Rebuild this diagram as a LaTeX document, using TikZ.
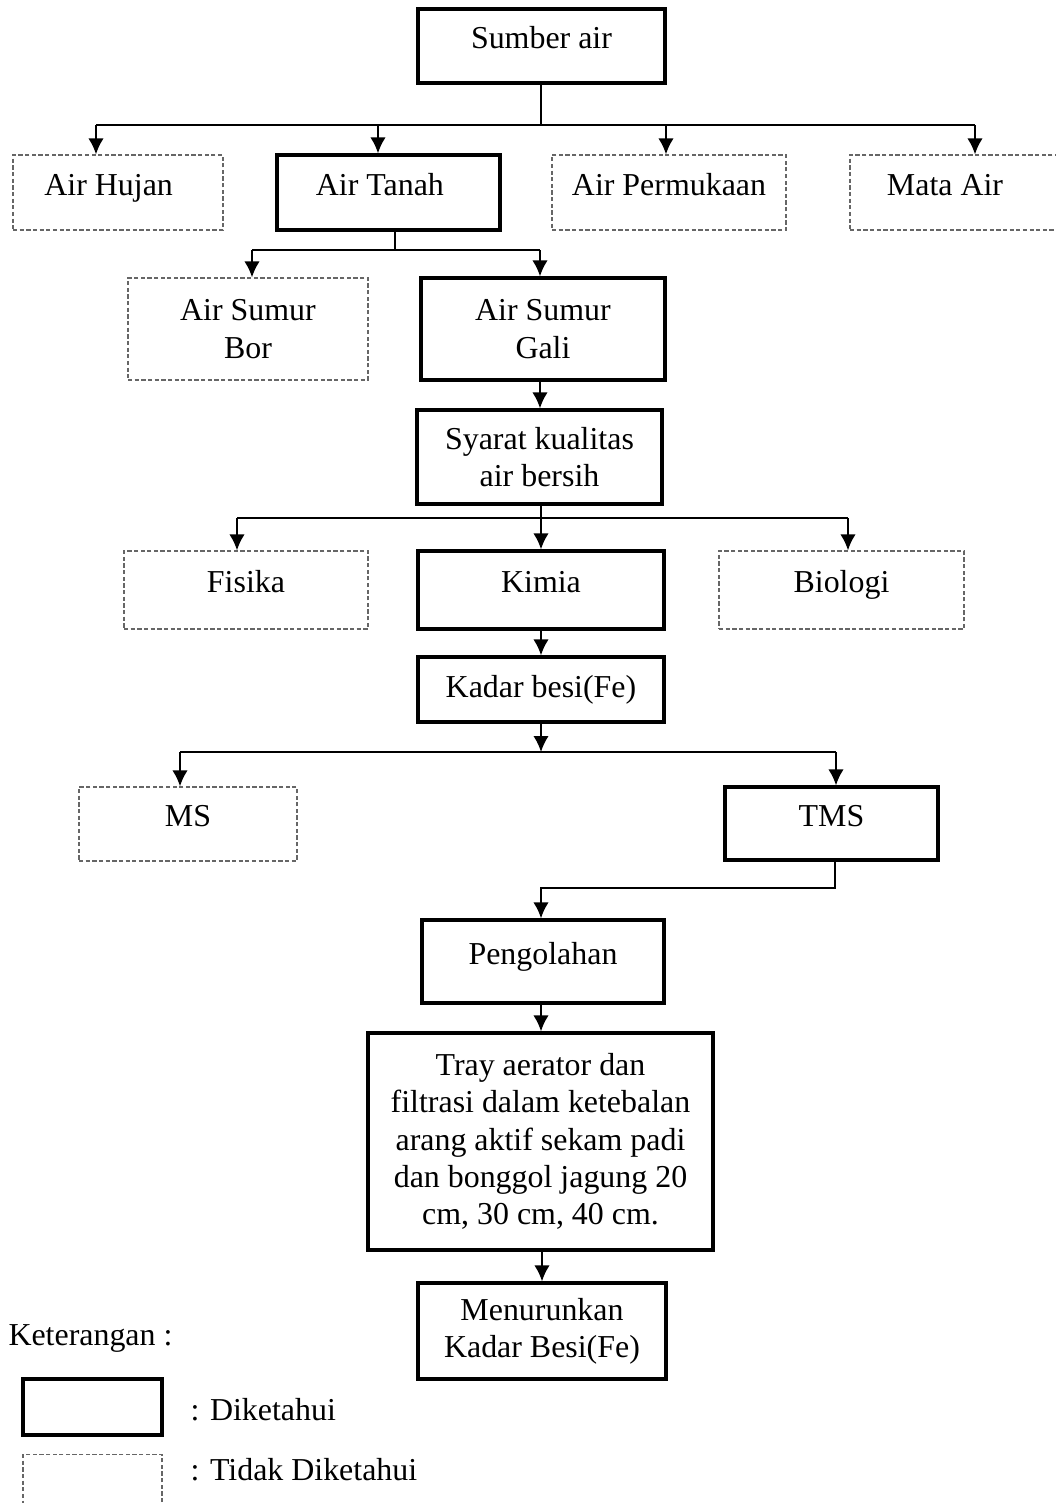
\documentclass[tikz,border=0pt]{standalone}
\usepackage{fontspec}
\setmainfont{Liberation Serif}
\usetikzlibrary{arrows.meta}

\tikzset{
  known/.style={draw, line width=1.2pt, align=center, inner sep=2pt, font=\fontsize{12}{14}\selectfont},
  unknown/.style={draw=black!60, dash pattern=on 1.6pt off 0.9pt, line width=0.45pt, align=center, inner sep=2pt, font=\fontsize{12}{14}\selectfont},
  sz/.style 2 args={minimum width=#1*0.376pt, minimum height=#2*0.376pt},
  toptext/.style={text height=8pt, text depth=6pt},
  flow/.style={line width=0.8pt}
}

\begin{document}
\begin{tikzpicture}[x=0.376pt, y=-0.376pt, >={Latex[length=6pt,width=5.8pt]}]

\useasboundingbox (0,0) rectangle (1056,1503);

\node[known, sz={247}{74}, toptext] (sumber) at (541.5,46) {Sumber air};

\node[unknown, sz={210}{75}, toptext] (hujan) at (118,192.5) {Air Hujan\hspace*{7pt}};
\node[known, sz={223}{75}, toptext] (tanah) at (388.5,192.5) {Air Tanah\hspace*{6.5pt}};
\node[unknown, sz={234}{75}, toptext] (permukaan) at (669,192.5) {Air Permukaan};
\node[unknown, sz={210}{75}, toptext] (mata) at (955,192.5) {Mata Air\hspace*{7.5pt}};

\node[unknown, sz={240}{102}] (bor) at (248,329) {Air Sumur\\Bor};
\node[known, sz={244}{102}] (gali) at (543,329) {Air Sumur\\Gali};

\node[known, sz={245}{94}] (syarat) at (539.5,457) {Syarat kualitas\\air bersih};

\node[unknown, sz={244}{78}, toptext] (fisika) at (246,590) {Fisika};
\node[known, sz={246}{78}, toptext] (kimia) at (541,590) {Kimia};
\node[unknown, sz={245}{78}, toptext] (biologi) at (841.5,590) {Biologi};

\node[known, sz={246}{65}] (kadar) at (541,689.5) {Kadar besi(Fe)};

\node[unknown, sz={218}{74}, toptext] (ms) at (188,824) {MS};
\node[known, sz={213}{73}, toptext] (tms) at (831.5,823.5) {TMS};

\node[known, sz={242}{83}, toptext] (olah) at (543,961.5) {Pengolahan};
\node[known, sz={345}{217}] (tray) at (540.5,1141.5) {Tray aerator dan\\filtrasi dalam ketebalan\\arang aktif sekam padi\\dan bonggol jagung 20\\cm, 30 cm, 40 cm.};
\node[known, sz={248}{96}] (turun) at (542,1331) {Menurunkan\\Kadar Besi(Fe)};

% keterangan
\node[anchor=west, inner sep=0pt, font=\fontsize{12}{14}\selectfont] (ket) at (8,1338) {Keterangan :};
\node[known, sz={139}{56}] (lgknown) at (92.5,1407) {};
\node[unknown, sz={139}{55}] (lgunknown) at (92.5,1482) {};
\node[anchor=west, inner sep=0pt, font=\fontsize{12}{14}\selectfont] (lgtxt1) at (190,1410) {: Diketahui};
\node[anchor=west, inner sep=0pt, font=\fontsize{12}{14}\selectfont] (lgtxt2) at (190,1470) {: Tidak Diketahui};

% sumber air
\coordinate (j1) at (541,125);
\coordinate (t1) at (96,125);
\coordinate (t2) at (378,125);
\coordinate (t3) at (666,125);
\coordinate (t4) at (975,125);
\draw[flow] (j1 |- sumber.south) -- (j1);
\draw[flow] (t1) -- (t4);
\draw[flow, ->] (t1) -- (t1 |- hujan.north);
\draw[flow, ->] (t2) -- (t2 |- tanah.north);
\draw[flow, ->] (t3) -- (t3 |- permukaan.north);
\draw[flow, ->] (t4) -- (t4 |- mata.north);

% air tanah
\coordinate (j2) at (395,250);
\coordinate (t5) at (252,250);
\coordinate (t6) at (540,250);
\draw[flow] (j2 |- tanah.south) -- (j2);
\draw[flow] (t5) -- (t6);
\draw[flow, ->] (t5) -- (t5 |- bor.north);
\draw[flow, ->] (t6) -- (t6 |- gali.north);

\draw[flow, ->] (t6 |- gali.south) -- (t6 |- syarat.north);

% syarat
\coordinate (t7) at (237,518);
\coordinate (t8) at (848,518);
\draw[flow] (t7) -- (t8);
\draw[flow, ->] (kimia.north |- syarat.south) -- (kimia.north);
\draw[flow, ->] (t7) -- (t7 |- fisika.north);
\draw[flow, ->] (t8) -- (t8 |- biologi.north);

\draw[flow, ->] (kimia.south) -- (kadar.north);

% kadar besi
\coordinate (j3) at (541,752);
\coordinate (t9) at (180,752);
\coordinate (t10) at (836,752);
\draw[flow, ->] (kadar.south) -- (j3);
\draw[flow] (t9) -- (t10);
\draw[flow, ->] (t9) -- (t9 |- ms.north);
\draw[flow, ->] (t10) -- (t10 |- tms.north);

% pengolahan
\coordinate (j4) at (835,888);
\coordinate (j5) at (541,888);
\draw[flow, ->] (j4 |- tms.south) -- (j4) -- (j5) -- (j5 |- olah.north);
\draw[flow, ->] (j5 |- olah.south) -- (j5 |- tray.north);
\draw[flow, ->] (turun.north |- tray.south) -- (turun.north);

\end{tikzpicture}
\end{document}
